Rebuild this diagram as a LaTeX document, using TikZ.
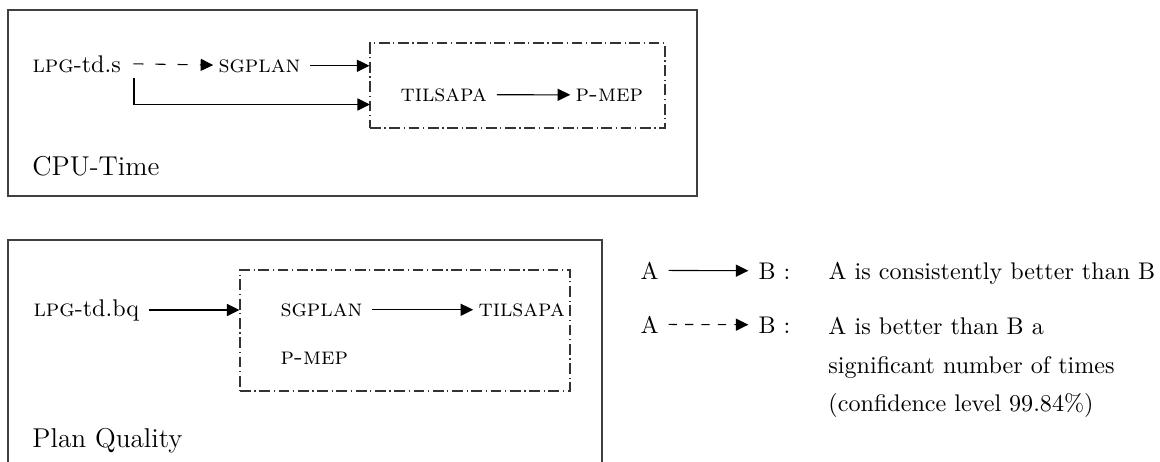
\documentclass[tikz,border=0pt]{standalone}
\usetikzlibrary{arrows.meta,fit}
\begin{document}
\begin{tikzpicture}[x=0.415pt,y=-0.415pt,
  frame/.style={draw=black!75,line width=0.6pt},
  group/.style={draw=black!80,line width=0.45pt,inner sep=0pt,dash pattern=on 4.5pt off 1.5pt on 0.5pt off 1.5pt},
  lbl/.style={inner sep=2pt,font=\normalsize,anchor=base west},
  big/.style={inner sep=0pt,font=\fontsize{11.3}{13}\selectfont,anchor=base west},
  leg/.style={inner sep=4pt,font=\normalsize,anchor=base west},
  arr/.style={-{Triangle[length=5.2pt,width=5pt]},line width=0.45pt},
  darr/.style={arr,dash pattern=on 4.2pt off 5pt},
  ldarr/.style={arr,dash pattern=on 3.4pt off 3.4pt}]
\useasboundingbox (0,0) rectangle (1160,461);
% top frame
\draw[frame] (8,10) rectangle (697,196);
\node[group,fit={(370,43) (665,128)}] (g1) {};
\node[lbl] (lpg1) at (27.2,72) {\textsc{lpg}-td.s};
\node[lbl] (sg1) at (213.2,72) {\textsc{sgplan}};
\node[lbl] (til1) at (395.2,101) {\textsc{tilsapa}};
\node[lbl] (pm1) at (570.2,101) {\textsc{p-mep}};
\node[big] (cpu) at (32,175) {CPU-Time};
\coordinate (in1) at (370,104.5);
\draw[darr] ([xshift=3pt]lpg1.east) -- (sg1);
\draw[arr] ([xshift=2pt]sg1.east) -- (sg1.east -| g1.west);
\draw[arr] ([xshift=3.3pt]lpg1.south east) |- (in1);
\draw[arr] ([xshift=2pt]til1.east) -- (pm1);
% bottom frame
\draw[frame] (8,480) -- (8,240) -- (602,240) -- (602,480);
\node[group,fit={(240,270) (570,391)}] (g2) {};
\node[lbl] (lpg2) at (28.2,316) {\textsc{lpg}-td.bq};
\node[lbl] (sg2) at (275.2,316) {\textsc{sgplan}};
\node[lbl] (til2) at (473.2,316) {\textsc{tilsapa}};
\node[lbl] (pm2) at (275.2,364) {\textsc{p-mep}};
\node[big] (pq) at (32,447) {Plan Quality};
\draw[arr] ([xshift=2pt]lpg2.east) -- (lpg2.east -| g2.west);
\draw[arr] ([xshift=2pt]sg2.east) -- (til2);
% legend
\node[leg] (la1) at (630.4,279) {A};
\node[leg] (lb1) at (748.4,279) {B :};
\draw[arr] (la1) -- (lb1);
\node[leg] (lt1) at (818.4,279) {A is consistently better than B};
\node[leg] (la2) at (630.4,333) {A};
\node[leg] (lb2) at (748.4,333) {B :};
\draw[ldarr] (la2) -- (lb2);
\node[leg,anchor=north west,align=left,inner sep=0pt] (lt2) at (828,317) {A is better than B a\\[4pt]significant number of times\\[4pt](confidence level 99.84\%)};
\end{tikzpicture}
\end{document}
